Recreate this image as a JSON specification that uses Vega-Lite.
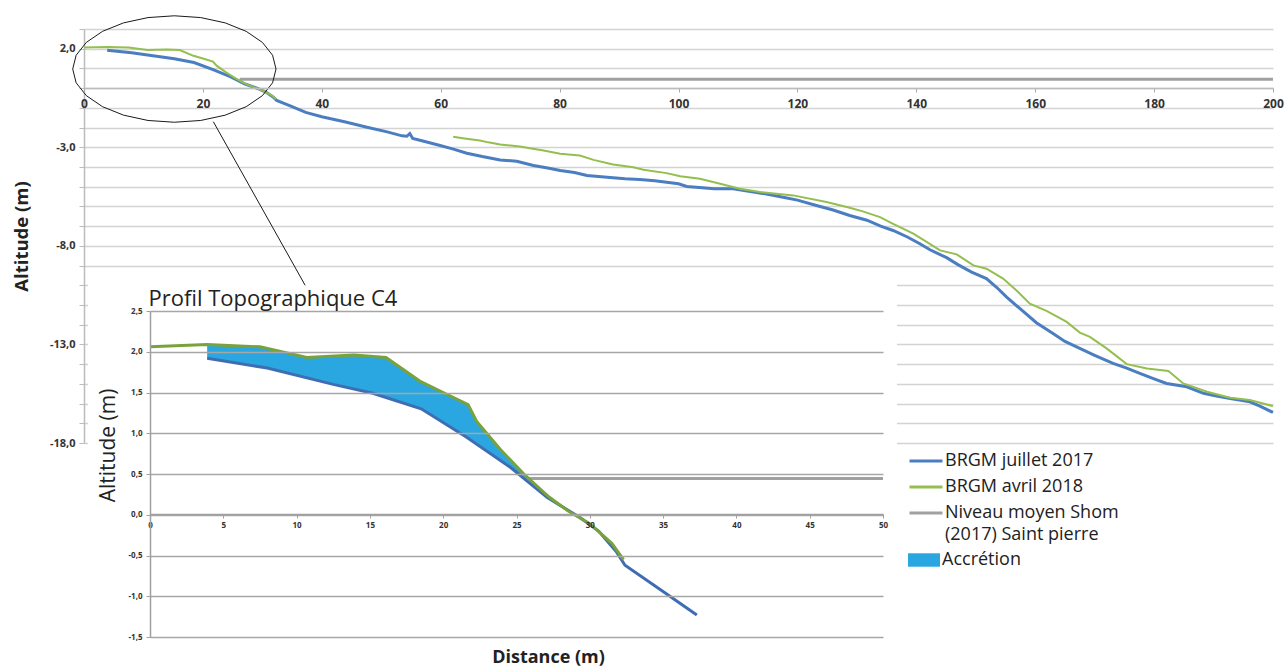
{
  "$schema": "https://vega.github.io/schema/vega-lite/v6.json",
  "width": 1288,
  "height": 666,
  "padding": 0,
  "autosize": {"type": "none"},
  "background": "white",
  "config": {
    "view": {"stroke": null},
    "font": "Open Sans",
    "axis": {"labelFont": "Open Sans", "titleFont": "Open Sans"},
    "legend": {"labelFont": "Open Sans"},
    "style": {"guide-label": {"lineHeight": 22}}
  },
  "datasets": {
    "blue": [
      {"d": 3.9, "alt": 1.92}, {"d": 8.0, "alt": 1.80}, {"d": 12.5, "alt": 1.60}, {"d": 15.2, "alt": 1.49},
      {"d": 18.5, "alt": 1.30}, {"d": 21.6, "alt": 0.95}, {"d": 24.6, "alt": 0.58}, {"d": 27.1, "alt": 0.21},
      {"d": 29.3, "alt": -0.03}, {"d": 30.6, "alt": -0.2}, {"d": 31.8, "alt": -0.45}, {"d": 32.4, "alt": -0.62},
      {"d": 34.9, "alt": -0.93}, {"d": 37.3, "alt": -1.23}, {"d": 40, "alt": -1.45}, {"d": 44, "alt": -1.72},
      {"d": 47.6, "alt": -1.98}, {"d": 51, "alt": -2.22}, {"d": 53.5, "alt": -2.42}, {"d": 54.3, "alt": -2.44},
      {"d": 54.8, "alt": -2.30}, {"d": 55.3, "alt": -2.55}, {"d": 57, "alt": -2.68}, {"d": 59.9, "alt": -2.91},
      {"d": 62, "alt": -3.08}, {"d": 64.4, "alt": -3.30}, {"d": 67, "alt": -3.47}, {"d": 70.0, "alt": -3.64},
      {"d": 72.8, "alt": -3.71}, {"d": 75.6, "alt": -3.92}, {"d": 78, "alt": -4.05}, {"d": 80.1, "alt": -4.18},
      {"d": 82.5, "alt": -4.28}, {"d": 84.6, "alt": -4.43}, {"d": 87, "alt": -4.50}, {"d": 89.0, "alt": -4.55},
      {"d": 91, "alt": -4.60}, {"d": 93.5, "alt": -4.63}, {"d": 96, "alt": -4.70}, {"d": 98.0, "alt": -4.77},
      {"d": 100, "alt": -4.85}, {"d": 101.4, "alt": -4.99}, {"d": 104, "alt": -5.05}, {"d": 106.0, "alt": -5.10},
      {"d": 109.2, "alt": -5.10}, {"d": 112.6, "alt": -5.27}, {"d": 115, "alt": -5.38}, {"d": 117.6, "alt": -5.53},
      {"d": 120, "alt": -5.68}, {"d": 123.2, "alt": -5.95}, {"d": 126, "alt": -6.18}, {"d": 128.8, "alt": -6.46},
      {"d": 131.7, "alt": -6.70}, {"d": 134, "alt": -7.0}, {"d": 136.1, "alt": -7.22}, {"d": 138.5, "alt": -7.55},
      {"d": 140.6, "alt": -7.89}, {"d": 142.3, "alt": -8.2}, {"d": 145.1, "alt": -8.6}, {"d": 147, "alt": -8.95},
      {"d": 149.3, "alt": -9.33}, {"d": 151.8, "alt": -9.66}, {"d": 153.5, "alt": -10.1}, {"d": 155.2, "alt": -10.6},
      {"d": 157.5, "alt": -11.2}, {"d": 160.2, "alt": -11.9}, {"d": 163.0, "alt": -12.45}, {"d": 165, "alt": -12.85},
      {"d": 167.5, "alt": -13.2}, {"d": 170, "alt": -13.55}, {"d": 173.1, "alt": -13.96}, {"d": 175.4, "alt": -14.2},
      {"d": 177.6, "alt": -14.47}, {"d": 180, "alt": -14.75}, {"d": 182.1, "alt": -14.98}, {"d": 185.5, "alt": -15.15},
      {"d": 188.3, "alt": -15.48}, {"d": 190.5, "alt": -15.62}, {"d": 192.8, "alt": -15.74}, {"d": 196.1, "alt": -15.91},
      {"d": 197.8, "alt": -16.13}, {"d": 200, "alt": -16.45}
    ],
    "green": [
      {"d": 0, "alt": 2.06, "seg": 1}, {"d": 3.9, "alt": 2.09, "seg": 1}, {"d": 7.5, "alt": 2.06, "seg": 1},
      {"d": 10.7, "alt": 1.93, "seg": 1}, {"d": 13.9, "alt": 1.96, "seg": 1}, {"d": 16.1, "alt": 1.93, "seg": 1},
      {"d": 18.4, "alt": 1.64, "seg": 1}, {"d": 20.0, "alt": 1.50, "seg": 1}, {"d": 21.7, "alt": 1.35, "seg": 1},
      {"d": 22.3, "alt": 1.14, "seg": 1}, {"d": 23.9, "alt": 0.80, "seg": 1}, {"d": 25.5, "alt": 0.50, "seg": 1},
      {"d": 27.2, "alt": 0.22, "seg": 1}, {"d": 28.5, "alt": 0.05, "seg": 1}, {"d": 30.0, "alt": -0.11, "seg": 1},
      {"d": 31.5, "alt": -0.35, "seg": 1}, {"d": 32.3, "alt": -0.55, "seg": 1},
      {"d": 62.1, "alt": -2.46, "seg": 2}, {"d": 64, "alt": -2.55, "seg": 2}, {"d": 66.6, "alt": -2.66, "seg": 2},
      {"d": 68, "alt": -2.75, "seg": 2}, {"d": 70.0, "alt": -2.86, "seg": 2}, {"d": 73.3, "alt": -2.96, "seg": 2},
      {"d": 75, "alt": -3.05, "seg": 2}, {"d": 77.3, "alt": -3.16, "seg": 2}, {"d": 80.1, "alt": -3.33, "seg": 2},
      {"d": 83.4, "alt": -3.42, "seg": 2}, {"d": 85.7, "alt": -3.64, "seg": 2}, {"d": 89.0, "alt": -3.87, "seg": 2},
      {"d": 92.4, "alt": -4.01, "seg": 2}, {"d": 94.1, "alt": -4.14, "seg": 2}, {"d": 98.0, "alt": -4.31, "seg": 2},
      {"d": 100.3, "alt": -4.47, "seg": 2}, {"d": 103.6, "alt": -4.60, "seg": 2}, {"d": 107.0, "alt": -4.85, "seg": 2},
      {"d": 110.3, "alt": -5.10, "seg": 2}, {"d": 113.7, "alt": -5.27, "seg": 2}, {"d": 119.3, "alt": -5.44, "seg": 2},
      {"d": 124.9, "alt": -5.78, "seg": 2}, {"d": 128.8, "alt": -6.07, "seg": 2}, {"d": 131, "alt": -6.25, "seg": 2},
      {"d": 133.9, "alt": -6.54, "seg": 2}, {"d": 136.1, "alt": -6.88, "seg": 2}, {"d": 139.5, "alt": -7.38, "seg": 2},
      {"d": 142, "alt": -7.85, "seg": 2}, {"d": 144.0, "alt": -8.23, "seg": 2}, {"d": 146.8, "alt": -8.43, "seg": 2},
      {"d": 149.6, "alt": -8.99, "seg": 2}, {"d": 151.8, "alt": -9.16, "seg": 2}, {"d": 154.6, "alt": -9.66, "seg": 2},
      {"d": 157, "alt": -10.3, "seg": 2}, {"d": 159.1, "alt": -10.93, "seg": 2}, {"d": 161.9, "alt": -11.3, "seg": 2},
      {"d": 165.3, "alt": -11.86, "seg": 2}, {"d": 167.5, "alt": -12.4, "seg": 2}, {"d": 169.2, "alt": -12.62, "seg": 2},
      {"d": 172.0, "alt": -13.2, "seg": 2}, {"d": 175.4, "alt": -14.0, "seg": 2}, {"d": 178.8, "alt": -14.22, "seg": 2},
      {"d": 182.4, "alt": -14.35, "seg": 2}, {"d": 184.9, "alt": -14.98, "seg": 2}, {"d": 188.9, "alt": -15.40, "seg": 2},
      {"d": 192.8, "alt": -15.70, "seg": 2}, {"d": 196.1, "alt": -15.82, "seg": 2}, {"d": 200, "alt": -16.13, "seg": 2}
    ],
    "shomMain": [{"d": 26.2, "alt": 0.45}, {"d": 200, "alt": 0.45}],
    "shomInset": [{"d": 25.8, "alt": 0.445}, {"d": 50, "alt": 0.445}],
    "acc": [
      {"d": 3.9, "alt": 2.09, "alt2": 1.92}, {"d": 7.5, "alt": 2.06, "alt2": 1.81},
      {"d": 10.7, "alt": 1.93, "alt2": 1.69}, {"d": 13.9, "alt": 1.96, "alt2": 1.55},
      {"d": 16.1, "alt": 1.93, "alt2": 1.45}, {"d": 18.4, "alt": 1.64, "alt2": 1.30},
      {"d": 20.0, "alt": 1.50, "alt2": 1.13}, {"d": 21.7, "alt": 1.35, "alt2": 0.95},
      {"d": 22.3, "alt": 1.14, "alt2": 0.88}, {"d": 23.9, "alt": 0.80, "alt2": 0.68},
      {"d": 25.5, "alt": 0.50, "alt2": 0.47}, {"d": 27.2, "alt": 0.22, "alt2": 0.21}
    ],
    "ellipse": [
      {"o": 0, "d": 32.3, "alt": 0.97}, {"o": 1, "d": 31.72, "alt": 1.67}, {"o": 2, "d": 30.01, "alt": 2.32},
      {"o": 3, "d": 27.29, "alt": 2.88}, {"o": 4, "d": 23.75, "alt": 3.31}, {"o": 5, "d": 19.63, "alt": 3.58},
      {"o": 6, "d": 15.2, "alt": 3.67}, {"o": 7, "d": 10.77, "alt": 3.58}, {"o": 8, "d": 6.65, "alt": 3.31},
      {"o": 9, "d": 3.11, "alt": 2.88}, {"o": 10, "d": 0.39, "alt": 2.32}, {"o": 11, "d": -1.32, "alt": 1.67},
      {"o": 12, "d": -1.9, "alt": 0.97}, {"o": 13, "d": -1.32, "alt": 0.27}, {"o": 14, "d": 0.39, "alt": -0.38},
      {"o": 15, "d": 3.11, "alt": -0.94}, {"o": 16, "d": 6.65, "alt": -1.37}, {"o": 17, "d": 10.77, "alt": -1.64},
      {"o": 18, "d": 15.2, "alt": -1.73}, {"o": 19, "d": 19.63, "alt": -1.64}, {"o": 20, "d": 23.75, "alt": -1.37},
      {"o": 21, "d": 27.29, "alt": -0.94}, {"o": 22, "d": 30.01, "alt": -0.38}, {"o": 23, "d": 31.72, "alt": 0.27},
      {"o": 24, "d": 32.3, "alt": 0.97}
    ],
    "connector": [{"d": 21.75, "alt": -1.70, "d2": 37.2, "alt2": -10.0}]
  },
  "layer": [
    {
      "layer": [
        {
          "data": {"name": "shomInset"},
          "mark": {"type": "rect", "color": "white"},
          "encoding": {
            "x": {"datum": -4.23, "type": "quantitative"},
            "x2": {"datum": 50.95},
            "y": {"datum": 2.9, "type": "quantitative"},
            "y2": {"datum": -1.87}
          }
        },
        {
          "data": {"name": "shomInset"},
          "mark": {"type": "line", "strokeWidth": 3, "color": "#a0a0a0"},
          "encoding": {
            "x": {
              "field": "d", "type": "quantitative",
              "scale": {"domain": [0, 50], "range": [150, 883], "nice": false, "zero": false},
              "axis": {
                "orient": "bottom", "offset": -152, "values": [0, 5, 10, 15, 20, 25, 30, 35, 40, 45, 50], "tickCount": 100,
                "format": "d",
                "grid": false, "tickSize": 4, "tickColor": "#a0a0a0", "domainColor": "#a0a0a0", "domainWidth": 1.5,
                "labelFontSize": 8, "labelFontWeight": "bold", "labelColor": "#333333", "labelPadding": 3,
                "labelBound": false, "labelOverlap": false, "labelFlush": false,
                "title": "Distance  (m)", "titleX": 548, "titleY": 143, "titleBaseline": "middle", "titleAlign": "center",
                "titleFontSize": 18, "titleFontWeight": "bold", "titleColor": "#222222",
                "zindex": 1
              }
            },
            "y": {
              "field": "alt", "type": "quantitative",
              "scale": {"domain": [-1.5, 2.5], "range": [637, 311], "nice": false, "zero": false},
              "axis": {
                "orient": "left", "offset": -150, "values": [-1.5, -1, -0.5, 0, 0.5, 1, 1.5, 2, 2.5], "tickCount": 100,
                "labelExpr": "replace(replace(format(datum.value, '.1f'), '.', ','), '\u2212', '-')",
                "grid": true, "gridColor": "#a6a6a6", "gridWidth": 1.5,
                "tickSize": 4, "tickColor": "#a0a0a0", "domainColor": "#a0a0a0", "domainWidth": 1.5,
                "labelFontSize": 8, "labelFontWeight": "bold", "labelColor": "#333333", "labelPadding": 4,
                "labelOverlap": false, "labelBound": false, "labelFlush": false,
                "title": "Altitude (m)", "titleX": -32, "titleY": 445, "titleFontSize": 21, "titleFontWeight": "normal", "titleColor": "#222222",
                "zindex": 1
              }
            }
          }
        },
        {
          "data": {"name": "acc"},
          "mark": {"type": "area", "opacity": 1},
          "encoding": {
            "x": {"field": "d", "type": "quantitative"},
            "y": {"field": "alt", "type": "quantitative"},
            "y2": {"field": "alt2"},
            "fill": {
              "datum": "Accrétion", "type": "nominal",
              "scale": {"domain": ["Accrétion"], "range": ["#2aa7e0"]},
              "legend": {
                "orient": "none", "legendX": 908, "legendY": 544, "title": null,
                "symbolType": "M-1,-0.42H1V0.42H-1Z", "symbolSize": 1024, "symbolStrokeWidth": 0, "symbolOpacity": 1,
                "labelFontSize": 18, "labelColor": "#222222", "labelLimit": 300, "labelOffset": 2
              }
            }
          }
        },
        {
          "data": {"name": "blue"},
          "transform": [{"filter": "datum.d <= 37.5"}],
          "mark": {"type": "line", "strokeWidth": 3, "color": "#3f6db3"},
          "encoding": {
            "x": {"field": "d", "type": "quantitative"},
            "y": {"field": "alt", "type": "quantitative"}
          }
        },
        {
          "data": {"name": "green"},
          "transform": [{"filter": "datum.seg == 1"}],
          "mark": {"type": "line", "strokeWidth": 3, "color": "#7aa23c"},
          "encoding": {
            "x": {"field": "d", "type": "quantitative"},
            "y": {"field": "alt", "type": "quantitative"}
          }
        }
      ]
    },
    {
      "layer": [
        {
          "data": {"name": "shomMain"},
          "mark": {"type": "line", "strokeWidth": 3},
          "encoding": {
            "x": {
              "field": "d", "type": "quantitative",
              "scale": {"domain": [0, 200], "range": [84, 1273], "nice": false, "zero": false},
              "axis": {
                "orient": "bottom", "offset": -578, "values": [0, 20, 40, 60, 80, 100, 120, 140, 160, 180, 200], "tickCount": 100,
                "format": "d",
                "grid": false, "tickSize": 4, "tickColor": "#aaaaaa", "domainColor": "#bbbbbb", "domainWidth": 1.5,
                "labelFontSize": 12, "labelFontWeight": "bold", "labelColor": "#333333", "labelPadding": 6,
                "labelBound": false, "labelOverlap": false, "labelFlush": false,
                "title": "Profil Topographique C4", "titleX": 148, "titleY": 217, "titleAlign": "left",
                "titleBaseline": "alphabetic", "titleFontSize": 22, "titleFontWeight": "normal", "titleColor": "#222222",
                "zindex": 1
              }
            },
            "y": {
              "field": "alt", "type": "quantitative",
              "scale": {"domain": [-18, 3], "range": [443, 29], "nice": false, "zero": false},
              "axis": {
                "orient": "left", "offset": -84, "tickCount": 100,
                "values": [-18, -17, -16, -15, -14, -13, -12, -11, -10, -9, -8, -7, -6, -5, -4, -3, -2, -1, 0, 1, 2, 3],
                "labelExpr": "(datum.value + 18) % 5 == 0 ? replace(replace(format(datum.value, '.1f'), '.', ','), '\u2212', '-') : ''",
                "grid": true, "gridColor": "#d3d3d3", "gridWidth": 1.5,
                "tickSize": 5, "tickColor": "#bbbbbb", "domainColor": "#bbbbbb", "domainWidth": 1.5,
                "labelFontSize": 11, "labelFontWeight": "bold", "labelColor": "#333333", "labelPadding": 4,
                "labelOverlap": false, "labelBound": false, "labelFlush": false,
                "title": "Altitude  (m)", "titleX": -53, "titleFontSize": 18.5, "titleFontWeight": "bold", "titleColor": "#222222",
                "zindex": 0
              }
            },
            "stroke": {
              "datum": "Niveau moyen Shom (2017) Saint pierre", "type": "nominal",
              "scale": {
                "domain": ["BRGM juillet 2017", "BRGM avril 2018", "Niveau moyen Shom (2017) Saint pierre"],
                "range": ["#4a7ec0", "#94bf4e", "#a0a0a0"]
              },
              "legend": {
                "orient": "none", "legendX": 914, "legendY": 449, "title": null,
                "symbolType": "M-1.6,0H1.6", "symbolSize": 425, "symbolStrokeWidth": 3,
                "labelFontSize": 18, "labelColor": "#222222", "labelLimit": 400, "labelOffset": 7, "rowPadding": 5,
                "labelExpr": "datum.label == 'Niveau moyen Shom (2017) Saint pierre' ? ['Niveau moyen Shom', '(2017) Saint pierre'] : datum.label"
              }
            }
          }
        },
        {
          "data": {"name": "blue"},
          "mark": {"type": "line", "strokeWidth": 3},
          "encoding": {
            "x": {"field": "d", "type": "quantitative"},
            "y": {"field": "alt", "type": "quantitative"},
            "stroke": {"datum": "BRGM juillet 2017", "type": "nominal"}
          }
        },
        {
          "data": {"name": "green"},
          "mark": {"type": "line", "strokeWidth": 2},
          "encoding": {
            "x": {"field": "d", "type": "quantitative"},
            "y": {"field": "alt", "type": "quantitative"},
            "detail": {"field": "seg", "type": "nominal"},
            "stroke": {"datum": "BRGM avril 2018", "type": "nominal"}
          }
        },
        {
          "data": {"name": "ellipse"},
          "mark": {"type": "line", "strokeWidth": 1, "color": "#1a1a1a"},
          "encoding": {
            "x": {"field": "d", "type": "quantitative"},
            "y": {"field": "alt", "type": "quantitative"},
            "order": {"field": "o", "type": "quantitative"}
          }
        },
        {
          "data": {"name": "connector"},
          "mark": {"type": "rule", "strokeWidth": 1, "color": "#1a1a1a"},
          "encoding": {
            "x": {"field": "d", "type": "quantitative"},
            "y": {"field": "alt", "type": "quantitative"},
            "x2": {"field": "d2"},
            "y2": {"field": "alt2"}
          }
        }
      ]
    }
  ],
  "resolve": {
    "scale": {"x": "independent", "y": "independent"},
    "axis": {"x": "independent", "y": "independent"}
  }
}
